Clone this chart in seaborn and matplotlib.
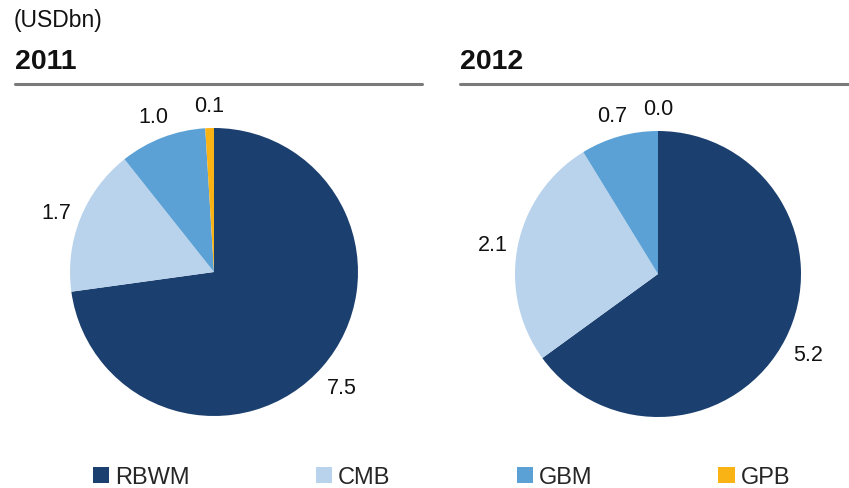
import matplotlib
matplotlib.use("Agg")
import matplotlib.pyplot as plt
from matplotlib.patches import Patch
from matplotlib.lines import Line2D
import matplotlib.transforms as mtransforms
import seaborn as sns

sns.set_theme(style="white")
plt.rcParams['font.family'] = ['Liberation Sans', 'DejaVu Sans']

segments = ["RBWM", "CMB", "GBM", "GPB"]
values_2011 = [7.5, 1.7, 1.0, 0.1]
values_2012 = [5.2, 2.1, 0.7, 0.0]
years = ["2011", "2012"]
unit_label = "(USDbn)"
colors = ["#1B3F6E", "#B9D3EC", "#5BA1D5", "#F9B314"]

W, H = 849, 489
fig = plt.figure(figsize=(W / 100, H / 100), dpi=100)

def add_pie(cx, cy, r, vals):
    ax = fig.add_axes([(cx - r) / W, (H - cy - r) / H, 2 * r / W, 2 * r / H])
    ax.pie(vals, colors=colors, startangle=90, counterclock=False,
           labels=[f"{v:.1f}" for v in vals], labeldistance=1.18,
           textprops=dict(fontsize=15.5, color="#111111"),
           wedgeprops=dict(linewidth=0))
    ax.set_xlim(-1, 1)
    ax.set_ylim(-1, 1)
    ax.set_aspect('auto')
    ax.axis('off')
    shift = mtransforms.offset_copy(ax.transData, fig=fig, x=0, y=-2.5, units='points')
    for t in ax.texts:
        t.set_clip_on(False)
        t.set_ha('center')
        t.set_va('center')
        t.set_transform(shift)
    return ax

add_pie(214, 273, 144, values_2011)
add_pie(658, 275, 143, values_2012)

fig.text(14 / W, 1 - 21 / H, unit_label, fontsize=16.5, va='center', ha='left', color="#111111")
for x0, x1, yr in [(15, 422, years[0]), (460, 848, years[1])]:
    fig.text(x0 / W, 1 - 62 / H, yr, fontsize=20.5, fontweight='bold', va='center', ha='left', color="#111111")
    fig.add_artist(Line2D([x0 / W, x1 / W], [1 - 85 / H, 1 - 85 / H], color="#7A7A7A", lw=2.2,
                          transform=fig.transFigure))

handles = [Patch(facecolor=c, edgecolor='none') for c in colors]
fig.legend(handles, segments, ncol=4, loc='center left', bbox_to_anchor=(93 / W, 1 - 478 / H),
           frameon=False, fontsize=17, handlelength=0.68, handleheight=0.68,
           handletextpad=0.25, columnspacing=5.35, borderpad=0, borderaxespad=0)

fig.savefig("out.png", dpi=100)
